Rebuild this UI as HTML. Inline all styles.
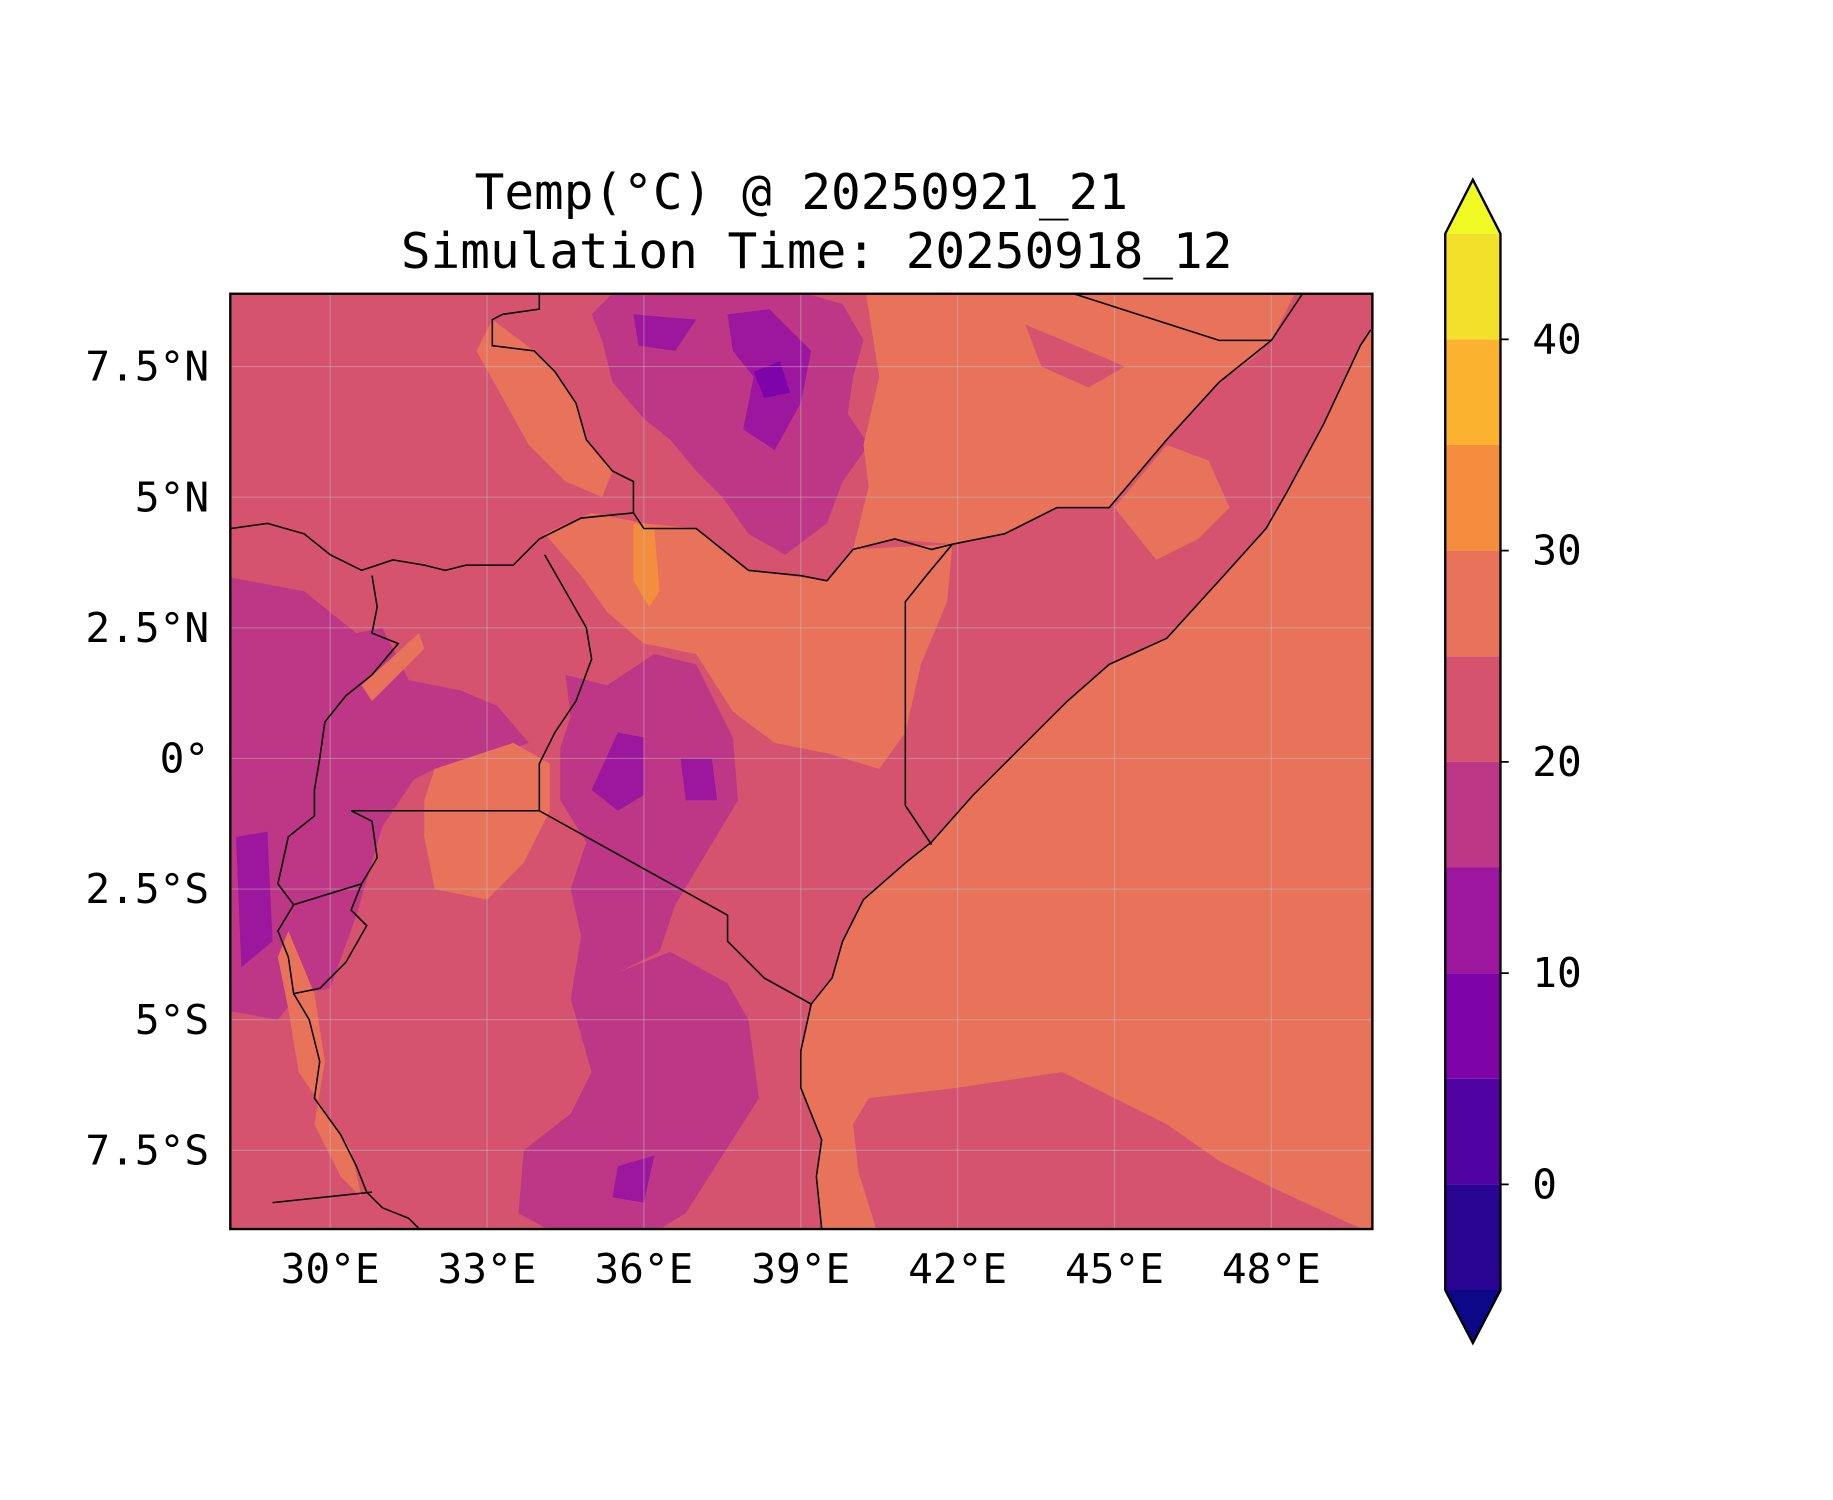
<!DOCTYPE html>
<html><head><meta charset="utf-8"><style>
html,body{margin:0;padding:0;background:#fff;}
svg{display:block;}
text{font-family:"DejaVu Sans Mono","Liberation Mono",monospace;fill:#000;}
</style></head><body>
<svg id="chart" width="1833" height="1500" viewBox="0 0 1560 1276.6" preserveAspectRatio="none" xmlns="http://www.w3.org/2000/svg">
<text x="682" y="178" font-size="42" text-anchor="middle">Temp(°C) @ 20250921_21</text>
<text x="695" y="228" font-size="42" text-anchor="middle">Simulation Time: 20250918_12</text>
<defs><clipPath id="mapclip"><rect x="196" y="250" width="972" height="796"/></clipPath></defs>
<g id="map" clip-path="url(#mapclip)"></g>
<rect x="196" y="250" width="972" height="796" fill="none" stroke="#000" stroke-width="2"/>
<g id="axes"></g>
<g id="cbar"></g>
</svg>
<script>
const lonTicks=[30,33,36,39,42,45,48];
const lonLabels=["30°E","33°E","36°E","39°E","42°E","45°E","48°E"];
const latTicks=[7.5,5,2.5,0,-2.5,-5,-7.5];
const latLabels=["7.5°N","5°N","2.5°N","0°","2.5°S","5°S","7.5°S"];
const levels=[-5,0,5,10,15,20,25,30,35,40,45];
const levelColors=["#2a0593","#5002a2","#7e03a8","#9c179e","#bd3786","#d5536f","#e8735a","#f48d3d","#fbb32f","#f3e02a"];
const cbarTicks=[0,10,20,30,40];
const underColor="#0d0887", overColor="#f0f921";
const C=levelColors;
const regions=[
 {c:C[6],name:"ocean",p:[[49.9,8.2],[49.7,7.9],[49,6.4],[48.3,5.1],[47.9,4.4],[47,3.4],[46,2.3],[44.9,1.8],[44.1,1.1],[43.2,0.2],[42.3,-0.7],[41.5,-1.6],[41,-2],[40.2,-2.7],[39.8,-3.5],[39.6,-4.2],[39.2,-4.7],[39,-5.6],[39,-6.3],[39.2,-6.8],[39.4,-7.3],[39.3,-8],[39.4,-9.2],[50.2,-9.2],[50.2,8.2]]},
 {c:C[5],name:"ocean-south",p:[[40.5,-9.2],[40.1,-7.9],[40,-7],[40.3,-6.5],[42,-6.3],[44,-6],[45,-6.5],[46,-7],[47,-7.7],[48,-8.2],[49.5,-8.9],[50.2,-9.2]]},
 {c:C[5],name:"arabian-sea",p:[[48.3,8.5],[49.5,8.6],[49.6,7.8],[48.6,7.7]]},
 {c:C[4],name:"ethiopia-highlands",p:[[35.7,9.2],[38,9.2],[39.8,8.7],[40.2,8],[40,7.3],[39.9,6.6],[40.3,6],[39.8,5.3],[39.5,4.5],[38.7,3.9],[38,4.3],[37.5,5],[37,5.5],[36.5,6.1],[36,6.5],[35.4,7.2],[35.2,8],[35,8.5]]},
 {c:C[3],name:"ethiopia-cold-1",p:[[37.6,8.5],[38.4,8.6],[39.2,7.8],[39,6.8],[38.5,5.9],[37.9,6.3],[38.1,7.3],[37.7,7.8]]},
 {c:C[2],name:"ethiopia-cold-2",p:[[38.1,7.4],[38.6,7.6],[38.8,7],[38.3,6.9]]},
 {c:C[3],name:"ethiopia-cold-3",p:[[35.8,8.5],[37,8.4],[36.6,7.8],[35.9,7.9]]},
 {c:C[4],name:"kenya-highlands",p:[[34.5,1.6],[35.3,1.4],[36.2,2],[37,1.8],[37.7,0.4],[37.8,-0.8],[37.2,-1.8],[36.6,-2.8],[36.3,-3.7],[35.5,-4.1],[34.8,-3.4],[34.6,-2.5],[34.9,-1.6],[34.4,-0.8],[34.4,0.2],[34.6,0.8]]},
 {c:C[4],name:"tanzania-interior",p:[[34.8,-3.4],[35.5,-4.1],[36.5,-3.7],[37.6,-4.3],[38,-5],[38.2,-6.5],[37.5,-7.6],[36.8,-8.7],[36,-9.2],[34.5,-9.2],[33.6,-8.7],[33.7,-7.5],[34.6,-6.8],[35,-6],[34.6,-4.6]]},
 {c:C[4],name:"west-highlands",p:[[27.9,3.5],[29.5,3.2],[30.5,2.4],[31,2.5],[31.5,1.5],[32.5,1.3],[33.2,1],[33.8,0.3],[33,0],[32,-0.2],[31.6,-0.4],[31,-1.3],[30.5,-3],[30,-4.4],[29.4,-4.5],[29,-5],[27.9,-4.8]]},
 {c:C[3],name:"kenya-cold-1",p:[[35.5,0.5],[36,0.4],[36,-0.7],[35.5,-1],[35,-0.6]]},
 {c:C[3],name:"kenya-cold-2",p:[[36.7,0],[37.3,0],[37.4,-0.8],[36.8,-0.8]]},
 {c:C[3],name:"tanzania-cold",p:[[35.5,-7.8],[36.2,-7.6],[36,-8.5],[35.4,-8.4]]},
 {c:C[3],name:"west-cold",p:[[28.2,-1.5],[28.8,-1.4],[28.9,-3.5],[28.3,-4]]},
 {c:C[6],name:"north-kenya-lowland",p:[[34.1,4.3],[35,4.7],[36,4.5],[37,4.4],[38,3.6],[39.5,3.4],[40,4],[41.9,4.1],[42.5,4.3],[41.8,3],[41.3,1.8],[41,0.5],[40.5,-0.2],[39.5,0.1],[38.5,0.3],[37.7,0.9],[37,2],[36,2.2],[35.3,2.8],[34.8,3.5]]},
 {c:C[6],name:"ogaden-lowland",p:[[40.2,9.2],[48.6,9.2],[48,8],[46,6.1],[44.9,4.8],[43.9,4.8],[42.9,4.3],[41.9,4.1],[40.8,4.2],[40,4],[40.3,5.2],[40.2,6],[40.5,7.3]]},
 {c:C[5],name:"ogaden-cool",p:[[43.3,8.3],[44.5,7.8],[45.2,7.5],[44.5,7.1],[43.6,7.5]]},
 {c:C[6],name:"south-sudan-lowland",p:[[33.1,8.4],[33.9,7.8],[34.3,7.4],[34.7,6.8],[34.9,6.1],[35.4,5.5],[35.2,5],[34.5,5.3],[33.8,6],[33.3,6.9],[32.8,7.8]]},
 {c:C[5],name:"somalia-interior",p:[[41.9,4.1],[42.9,4.3],[43.9,4.8],[44.9,4.8],[46,6.1],[47,7.2],[47.7,7.7],[48.6,6.8],[48.3,5.1],[47.9,4.4],[47,3.4],[46,2.3],[44.9,1.8],[44.1,1.1],[43.2,0.2],[42.3,-0.7],[41.5,-1.6],[41.2,-0.5],[41.3,1.8],[41.8,3]]},
 {c:C[6],name:"somalia-warm",p:[[45,4.8],[46,6],[46.8,5.7],[47.2,4.8],[46.6,4.2],[45.8,3.8]]},
 {c:C[6],name:"lake-victoria",p:[[32,-0.2],[33.5,0.3],[34.2,-0.1],[34.2,-1],[33.7,-2],[33,-2.7],[32,-2.5],[31.8,-1.5],[31.8,-0.8]]},
 {c:C[7],name:"turkana-hot",p:[[35.8,4.5],[36.2,4.4],[36.3,3.2],[36.1,2.9],[35.8,3.4]]},
 {c:C[6],name:"tanganyika",p:[[29.2,-3.3],[29.7,-4.5],[29.9,-5.8],[29.7,-7],[30.2,-8],[30.6,-8.4],[30.4,-7.5],[29.4,-6],[29.2,-4.8],[29,-3.8]]},
 {c:C[6],name:"lake-albert",p:[[30.6,1.4],[31.7,2.4],[31.8,2.1],[30.8,1.1]]}
];
const borders=[
 [[49.9,8.2],[49.7,7.9],[49,6.4],[48.3,5.1],[47.9,4.4],[47,3.4],[46,2.3],[44.9,1.8],[44.1,1.1],[43.2,0.2],[42.3,-0.7],[41.5,-1.6],[41,-2],[40.2,-2.7],[39.8,-3.5],[39.6,-4.2],[39.2,-4.7],[39,-5.6],[39,-6.3],[39.2,-6.8],[39.4,-7.3],[39.3,-8],[39.4,-9]],
 [[41.5,-1.65],[41,-0.9],[41,3],[41.4,3.5],[41.9,4.1],[42.9,4.3],[43.9,4.8],[44.9,4.8],[46,6.1],[47,7.2],[48,8],[48.6,8.9]],
 [[44.2,8.9],[47,8],[48,8]],
 [[28.1,4.4],[28.8,4.5],[29.5,4.3],[30,3.9],[30.6,3.6],[31.2,3.8],[31.8,3.7],[32.2,3.6],[32.6,3.7],[33.5,3.7],[34,4.2],[34.8,4.6],[35.8,4.7]],
 [[35.8,4.7],[36,4.4],[37,4.4],[38,3.6],[39,3.5],[39.5,3.4],[40,4],[40.8,4.2],[41.5,4.0],[41.9,4.1]],
 [[35.8,4.7],[35.8,5.3],[35.4,5.5],[34.9,6.1],[34.7,6.8],[34.3,7.4],[33.9,7.8],[33.1,7.9],[33.1,8.4],[33.3,8.5],[34,8.6],[34,8.9]],
 [[34.1,3.9],[34.5,3.2],[34.9,2.5],[35,1.9],[34.7,1.1],[34.3,0.5],[34,-0.1],[34,-1]],
 [[34,-1],[30.4,-1]],
 [[34,-1],[37.6,-3],[37.6,-3.5],[38.3,-4.2],[39.2,-4.7]],
 [[30.8,3.5],[30.9,2.9],[30.8,2.4],[31.3,2.2],[30.8,1.6],[30.3,1.2],[29.9,0.7],[29.8,0],[29.7,-0.6],[29.7,-1.1],[29.2,-1.5],[29,-2.4],[29.3,-2.8],[30.6,-2.4],[30.9,-1.9],[30.8,-1.2],[30.4,-1]],
 [[29.3,-2.8],[29,-3.3],[29.2,-3.8],[29.3,-4.5],[29.6,-5],[29.8,-5.8],[29.7,-6.5],[30.2,-7.2],[30.5,-7.8],[30.7,-8.3],[31,-8.6],[31.5,-8.8],[31.7,-9]],
 [[30.6,-2.4],[30.4,-2.9],[30.7,-3.2],[30.3,-3.9],[29.8,-4.4],[29.3,-4.5]],
 [[28.9,-8.5],[30.8,-8.3]]
];
const NS="http://www.w3.org/2000/svg";
const X=lon=>281+(lon-30)*44.5;
const Y=lat=>645.5-lat*44.47;
const CB=v=>1008-v*17.98;
function mk(tag,attrs,parent){const e=document.createElementNS(NS,tag);for(const k in attrs)e.setAttribute(k,attrs[k]);parent.appendChild(e);return e;}
const map=document.getElementById('map');
const bg=mk('rect',{x:196,y:250,width:972,height:796,fill:C[5]},map);


regions.forEach(r=>{
 const e=mk('path',{d:'M'+r.p.map(q=>X(q[0]).toFixed(1)+','+Y(q[1]).toFixed(1)).join('L')+'Z',fill:r.c,'stroke-linejoin':'round'},map);
 
 
});
lonTicks.forEach(v=>{const e=mk('line',{x1:X(v),x2:X(v),y1:250,y2:1046,stroke:'rgba(190,190,190,0.45)','stroke-width':1},map);
 
 });
latTicks.forEach(v=>{const e=mk('line',{x1:196,x2:1168,y1:Y(v),y2:Y(v),stroke:'rgba(190,190,190,0.45)','stroke-width':1},map);
 
 });
borders.forEach(b=>{const e=mk('path',{d:'M'+b.map(q=>X(q[0]).toFixed(1)+','+Y(q[1]).toFixed(1)).join('L'),fill:'none',stroke:'#000','stroke-width':1.3},map);
 
 });
const axes=document.getElementById('axes');
lonTicks.forEach((v,i)=>{const t=mk('text',{x:X(v),y:1092,'font-size':35,'text-anchor':'middle'},axes);t.textContent=lonLabels[i];
 
 });
latTicks.forEach((v,i)=>{const t=mk('text',{x:178,y:Y(v)+12,'font-size':35,'text-anchor':'end'},axes);t.textContent=latLabels[i];
 
 });
const cb=document.getElementById('cbar');
const cx0=1230,cx1=1277,cmid=1253.5;
levelColors.forEach((col,i)=>{const e=mk('rect',{x:cx0,y:CB(levels[i+1]),width:cx1-cx0,height:CB(levels[i])-CB(levels[i+1]),fill:col},cb);
 
 });
const lo=CB(levels[0]),hi=CB(levels[levels.length-1]);
const u=mk('path',{d:`M${cx0},${lo}L${cmid},${lo+45}L${cx1},${lo}Z`,fill:underColor},cb);


const o=mk('path',{d:`M${cx0},${hi}L${cmid},${hi-46}L${cx1},${hi}Z`,fill:overColor},cb);


const ol=mk('path',{d:`M${cx0},${hi}L${cmid},${hi-46}L${cx1},${hi}L${cx1},${lo}L${cmid},${lo+45}L${cx0},${lo}Z`,fill:'none',stroke:'#000','stroke-width':2},cb);


cbarTicks.forEach(v=>{const l=mk('line',{x1:cx1,x2:cx1+7,y1:CB(v),y2:CB(v),stroke:'#000','stroke-width':1.5},cb);
 
 
 const t=mk('text',{x:1304,y:CB(v)+12,'font-size':35},cb);t.textContent=String(v);
 
 });
</script>
</body></html>
